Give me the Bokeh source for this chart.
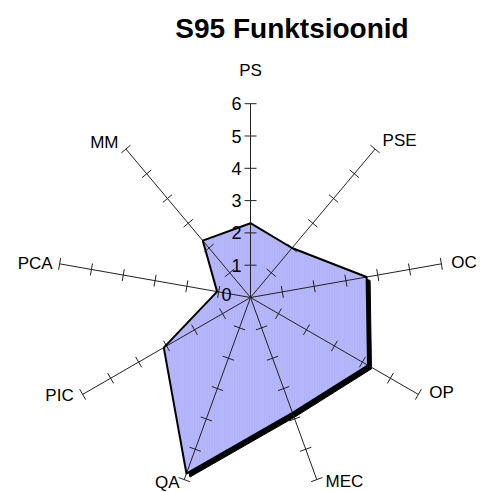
import math
from bokeh.plotting import figure
from bokeh.models import Range1d
from bokeh.core.properties import value
from bokeh.embed import file_html
from bokeh.resources import INLINE

# ---- data ----
categories = ["PS", "PSE", "OC", "OP", "MEC", "QA", "PIC", "PCA", "MM"]
values = [2.3, 2.0, 3.65, 4.2, 3.8, 5.8, 3.1, 1.05, 2.3]
tick_values = [0, 1, 2, 3, 4, 5, 6]
tick_labels = ["0", "1", "2", "3", "4", "5", "6"]
title_text = "S95 Funktsioonid"

# ---- layout ----
W, H = 480, 492
S = 32.3            # pixels per unit
CX, CY = 250, 297   # centre in frame pixels (from top-left)
RMAX = 6

p = figure(width=W, height=H, output_backend="svg", toolbar_location=None,
           x_range=Range1d(-CX / S, (W - CX) / S),
           y_range=Range1d(-(H - CY) / S, CY / S),
           min_border=0)
p.axis.visible = False
p.grid.visible = False
p.outline_line_color = None
p.background_fill_color = "white"

n = len(categories)
angles = [math.radians(90 - 40 * i) for i in range(n)]

def px(v):
    return v / S

# polygon points
xs = [v * math.cos(a) for v, a in zip(values, angles)]
ys = [v * math.sin(a) for v, a in zip(values, angles)]

# shadow (offset down-right)
off = px(3.5)
p.patch([x + off for x in xs], [y - off for y in ys], fill_color="black",
        line_color="black", line_width=1)
# filled polygon
p.patch(xs, ys, fill_color="#b6b6fb", line_color=None,
        hatch_pattern="vertical_line", hatch_color="#a0a0ee", hatch_alpha=0.25,
        hatch_scale=2.5, hatch_weight=1)

# axes
for a in angles:
    p.line([0, RMAX * math.cos(a)], [0, RMAX * math.sin(a)],
           line_color="#222222", line_width=1)

# ticks on each axis
tx0, ty0, tx1, ty1 = [], [], [], []
h = px(6)
for a in angles:
    c, s = math.cos(a), math.sin(a)
    for t in tick_values[1:]:
        bx, by = t * c, t * s
        tx0.append(bx - h * (-s)); ty0.append(by - h * c)
        tx1.append(bx + h * (-s)); ty1.append(by + h * c)
p.segment(tx0, ty0, tx1, ty1, line_color="#222222", line_width=1)

# polygon outline
p.line(xs + [xs[0]], ys + [ys[0]], line_color="black", line_width=2)

# tick labels on PS axis
lx = [px(-9) if t > 0 else px(-19) for t in tick_values]
ly = [t + (0 if t > 0 else px(3)) for t in tick_values]
p.text(lx, ly, text=tick_labels, text_align="right", text_baseline="middle",
       text_font=value("Liberation Sans"), text_font_size="18px", text_color="black")

# category labels (pixel offsets from axis ends)
offsets = [(0, -33, "center"), (7.5, -8.5, "left"), (9.8, -1.8, "left"),
           (11, -1.5, "left"), (8.7, 2.2, "left"), (-4.7, 3.2, "right"),
           (-9, 1, "right"), (-7, 0, "right"), (-7.4, -6.5, "right")]
for cat, a, (dx, dy, al) in zip(categories, angles, offsets):
    ex, ey = RMAX * math.cos(a), RMAX * math.sin(a)
    p.text([ex + px(dx)], [ey - px(dy)], text=[cat], text_align=al,
           text_baseline="middle", text_font=value("Liberation Sans"),
           text_font_size="17px", text_color="black")

# title
p.text([px(291.5 - CX)], [px(CY - 27.5)], text=[title_text], text_align="center",
       text_baseline="middle", text_font=value("Liberation Sans"),
       text_font_size="28px", text_font_style="bold", text_color="black")

open("out.html", "w").write(file_html(p, INLINE))
